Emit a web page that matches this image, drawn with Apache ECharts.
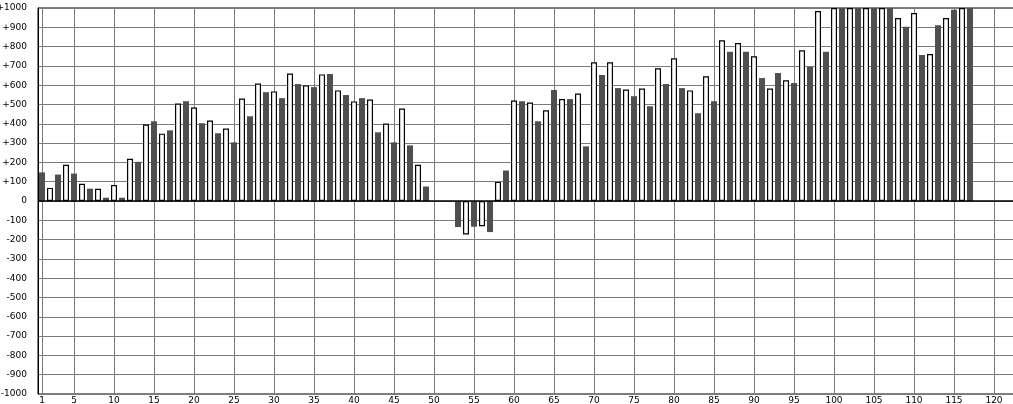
<!DOCTYPE html>
<html>
<head>
<meta charset="utf-8">
<script src="https://cdn.jsdelivr.net/npm/echarts@6/dist/echarts.min.js"></script>
<style>
html,body{margin:0;padding:0;background:#fff;}
#chart{width:1013px;height:404px;}
</style>
</head>
<body>
<div id="chart"></div>
<script>
// Dark bars sit on odd positions 1,3,5,...,117
const darkPositions = [1,3,5,7,9,11,13,15,17,19,21,23,25,27,29,31,33,35,37,39,41,43,45,47,49,51,53,55,57,59,61,63,65,67,69,71,73,75,77,79,81,83,85,87,89,91,93,95,97,99,101,103,105,107,109,111,113,115,117];
const darkValues = [148,137,142,64,17,17,203,413,366,517,403,351,304,439,564,533,606,590,658,549,533,356,304,288,75,null,-135,-133,-161,158,517,413,575,528,283,653,585,543,491,606,585,455,517,773,773,637,663,611,694,773,1000,1000,1000,1000,903,757,910,991,1000];
// White bars sit on even positions 2,4,6,...,116
const whitePositions = [2,4,6,8,10,12,14,16,18,20,22,24,26,28,30,32,34,36,38,40,42,44,46,48,50,52,54,56,58,60,62,64,66,68,70,72,74,76,78,80,82,84,86,88,90,92,94,96,98,100,102,104,106,108,110,112,114,116];
const whiteValues = [68,188,89,63,83,219,396,349,505,484,417,375,531,609,568,661,599,656,573,516,526,401,479,188,null,null,-173,-131,99,521,510,470,528,557,719,719,578,583,688,740,573,646,833,819,750,583,625,781,984,1000,1000,1000,1000,948,974,762,948,1000];
const xTicks = [1,5,10,15,20,25,30,35,40,45,50,55,60,65,70,75,80,85,90,95,100,105,110,115,120];

const pair = (xs, vs) => xs.map((x, i) => [x, vs[i]]);

const chart = echarts.init(document.getElementById('chart'), null, {renderer: 'canvas'});
const font = 'DejaVu Sans';
chart.setOption({
  animation: false,
  backgroundColor: '#fff',
  grid: {left: 38, top: 8, right: -1, bottom: 10, show: true, borderColor: '#000', borderWidth: 1,
    backgroundColor: 'transparent', outerBoundsMode: 'none', containLabel: false},
  xAxis: {
    type: 'value', min: 0.5, max: 122.5,
    axisLine: {show: false},
    axisTick: {show: false, customValues: xTicks},
    axisLabel: {customValues: xTicks, color: '#000', fontFamily: font, fontSize: 9, margin: 2},
    splitLine: {show: true, lineStyle: {color: '#7a7a7a', width: 1}}
  },
  yAxis: {
    type: 'value', min: -1000, max: 1000, interval: 100,
    axisLine: {show: true, lineStyle: {color: '#000', width: 1}},
    axisTick: {show: false},
    axisLabel: {color: '#000', fontFamily: font, fontSize: 9, margin: 11,
      formatter: v => v > 0 ? '+' + v : String(v)},
    splitLine: {show: true, lineStyle: {color: '#7a7a7a', width: 1}}
  },
  series: [
    {
      type: 'bar', name: 'dark', data: pair(darkPositions, darkValues),
      barWidth: 6, barGap: '-100%',
      itemStyle: {color: '#4f4f4f'},
      markLine: {silent: true, symbol: 'none', label: {show: false},
        lineStyle: {color: '#000', type: 'solid', width: 1.5},
        data: [{yAxis: 0}]}
    },
    {
      type: 'bar', name: 'white', data: pair(whitePositions, whiteValues),
      barWidth: 6, barGap: '-100%',
      itemStyle: {color: '#fff', borderColor: '#000', borderWidth: 1.2}
    }
  ]
});
</script>
</body>
</html>
